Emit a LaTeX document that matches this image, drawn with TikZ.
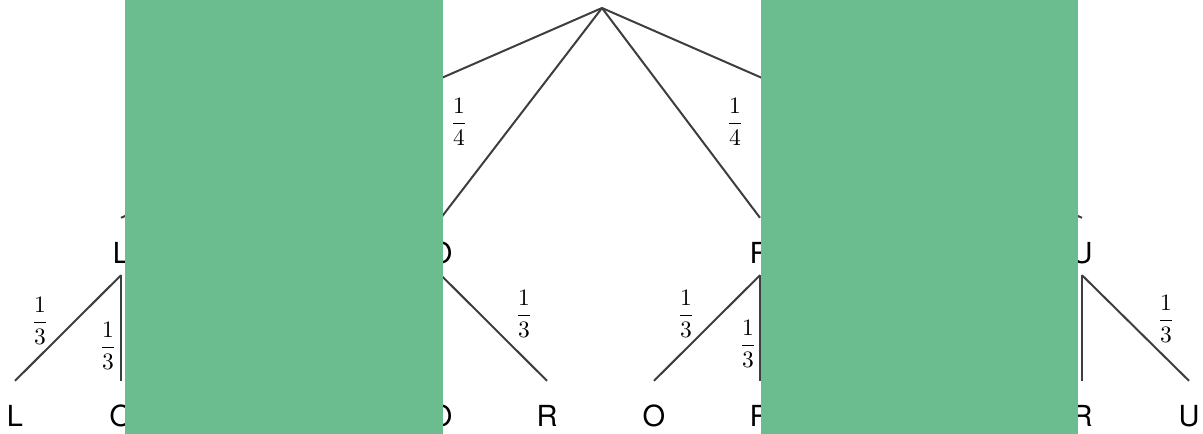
\documentclass[tikz,border=0pt]{standalone}
\usepackage{fontspec}
\setsansfont{TeX Gyre Heros}
\definecolor{cover}{RGB}{107,188,143}
\definecolor{branch}{RGB}{62,62,62}
\begin{document}
\begin{tikzpicture}[x=1pt,y=-1pt,
  lbl/.style={font=\sffamily\fontsize{29}{31}\selectfont, inner sep=0pt, text height=21pt, text depth=0pt},
  frac/.style={inner sep=0pt, scale=2.35},
  br/.style={draw=branch, line width=2pt},
  coverbox/.style={fill=cover, draw=none}]
\useasboundingbox (0,0) rectangle (1203,434);
\coordinate (root) at (602,8);
% level 1
\node[lbl] (L) at (121,253) {L};
\node[lbl] (O) at (441,253) {O};
\node[lbl] (R) at (760,253) {R};
\node[lbl] (U) at (1082,253) {U};
% level 2
\node[lbl] (LL) at (15,416) {L};
\node[lbl] (LO) at (121,416) {O};
\node[lbl] (OO) at (441,416) {O};
\node[lbl] (OR) at (547,416) {R};
\node[lbl] (RO) at (654,416) {O};
\node[lbl] (RR) at (760,416) {R};
\node[lbl] (UR) at (1082,416) {R};
\node[lbl] (UU) at (1189,416) {U};
% branches
\foreach \n in {L,O,R,U}
  \draw[br] (root) -- ([yshift=24.5pt]\n.north);
\draw[br] ([yshift=-11.5pt]L.south) -- ([yshift=24.5pt]LL.north);
\draw[br] ([yshift=-11.5pt]L.south) -- ([yshift=24.5pt]LO.north);
\draw[br] ([yshift=-11.5pt]O.south) -- ([yshift=24.5pt]OO.north);
\draw[br] ([yshift=-11.5pt]O.south) -- ([yshift=24.5pt]OR.north);
\draw[br] ([yshift=-11.5pt]R.south) -- ([yshift=24.5pt]RO.north);
\draw[br] ([yshift=-11.5pt]R.south) -- ([yshift=24.5pt]RR.north);
\draw[br] ([yshift=-11.5pt]U.south) -- ([yshift=24.5pt]UR.north);
\draw[br] ([yshift=-11.5pt]U.south) -- ([yshift=24.5pt]UU.north);
% probabilities
\node[frac] (pO) at (459,122) {$\displaystyle\frac{1}{4}$};
\node[frac] (pR) at (735,122) {$\displaystyle\frac{1}{4}$};
\node[frac] (pLL) at (40,321) {$\displaystyle\frac{1}{3}$};
\node[frac] (pLO) at (108,346) {$\displaystyle\frac{1}{3}$};
\node[frac] (pOR) at (524,314) {$\displaystyle\frac{1}{3}$};
\node[frac] (pRO) at (686,314) {$\displaystyle\frac{1}{3}$};
\node[frac] (pRR) at (748,344) {$\displaystyle\frac{1}{3}$};
\node[frac] (pUU) at (1166,319) {$\displaystyle\frac{1}{3}$};
% covering boxes
\fill[coverbox] (125,0) rectangle (443,434);
\fill[coverbox] (761,0) rectangle (1078,434);
\end{tikzpicture}
\end{document}
